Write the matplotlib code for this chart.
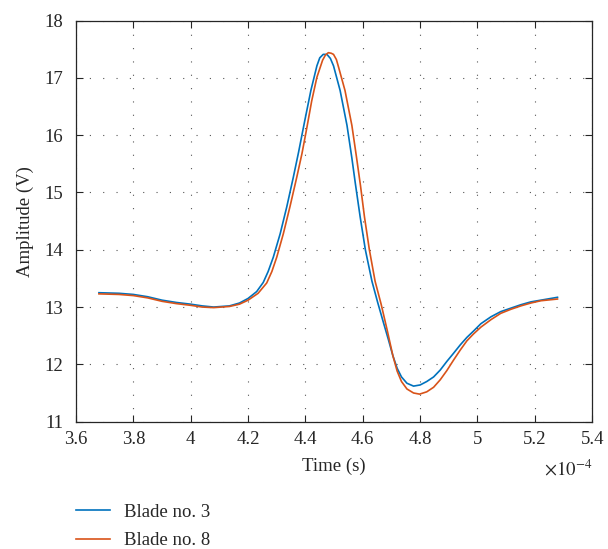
import numpy as np
import matplotlib
matplotlib.use("Agg")
import matplotlib.pyplot as plt
from matplotlib.ticker import FormatStrFormatter

plt.rcParams['font.family'] = ['Liberation Serif', 'DejaVu Serif']
plt.rcParams['mathtext.fontset'] = 'stix'

# time in units of 1e-4 s, amplitude in V
t_b3 = [3.68, 3.75, 3.80, 3.85, 3.90, 3.95, 4.00, 4.04, 4.08, 4.135, 4.17, 4.20, 4.23,
        4.253, 4.27, 4.288, 4.312, 4.335, 4.358, 4.376, 4.398, 4.419, 4.44, 4.45, 4.462,
        4.475, 4.487, 4.498, 4.521, 4.545, 4.562, 4.574, 4.591, 4.609, 4.632, 4.652,
        4.672, 4.69, 4.705, 4.72, 4.735, 4.754, 4.777, 4.80, 4.823, 4.847, 4.870, 4.893,
        4.916, 4.940, 4.963, 4.986, 5.012, 5.047, 5.081, 5.116, 5.151, 5.186, 5.221, 5.279]
a_b3 = [13.25, 13.24, 13.22, 13.18, 13.12, 13.08, 13.05, 13.02, 13.00, 13.02, 13.07, 13.15, 13.27,
        13.43, 13.62, 13.87, 14.28, 14.75, 15.27, 15.70, 16.26, 16.78, 17.21, 17.35, 17.41,
        17.41, 17.34, 17.21, 16.78, 16.17, 15.60, 15.16, 14.57, 14.00, 13.45, 13.08,
        12.73, 12.42, 12.15, 11.93, 11.78, 11.67, 11.62, 11.64, 11.70, 11.78, 11.90, 12.05,
        12.19, 12.34, 12.47, 12.58, 12.71, 12.83, 12.92, 12.98, 13.04, 13.09, 13.12, 13.17]

t_b8 = [3.68, 3.75, 3.80, 3.85, 3.90, 3.95, 4.00, 4.04, 4.08, 4.135, 4.17, 4.20, 4.235,
        4.265, 4.283, 4.30, 4.323, 4.346, 4.37, 4.388, 4.405, 4.422, 4.44, 4.46, 4.47,
        4.48, 4.49, 4.498, 4.508, 4.516, 4.538, 4.562, 4.578, 4.592, 4.606, 4.623, 4.643,
        4.664, 4.685, 4.705, 4.72, 4.735, 4.754, 4.777, 4.798, 4.823, 4.847, 4.870, 4.893,
        4.916, 4.940, 4.963, 4.986, 5.012, 5.047, 5.081, 5.116, 5.151, 5.186, 5.221, 5.279]
a_b8 = [13.23, 13.22, 13.20, 13.16, 13.10, 13.06, 13.03, 13.00, 12.99, 13.01, 13.05, 13.12, 13.24,
        13.42, 13.62, 13.87, 14.28, 14.75, 15.27, 15.68, 16.13, 16.60, 17.01, 17.31, 17.40,
        17.44, 17.43, 17.41, 17.32, 17.18, 16.78, 16.17, 15.62, 15.12, 14.57, 14.00, 13.45,
        13.05, 12.60, 12.15, 11.88, 11.70, 11.57, 11.50, 11.48, 11.52, 11.60, 11.73, 11.89,
        12.07, 12.25, 12.41, 12.53, 12.65, 12.78, 12.89, 12.96, 13.02, 13.07, 13.11, 13.14]

fig = plt.figure(figsize=(6.08, 5.49), dpi=100)
ax = fig.add_axes([0.125, 0.232, 0.849, 0.7305])

ax.plot(t_b3, a_b3, color='#0072BD', lw=1.2, label='Blade no. 3')
ax.plot(t_b8, a_b8, color='#D95319', lw=1.2, label='Blade no. 8')

ax.set_xlim(3.6, 5.4)
ax.set_ylim(11, 18)
ax.set_xticks(np.arange(3.6, 5.41, 0.2))
ax.set_yticks(np.arange(11, 19, 1))
ax.xaxis.set_major_formatter(FormatStrFormatter('%g'))
ax.tick_params(direction='in', top=True, right=True, length=5, width=0.8,
               labelsize=13.5, colors='#262626', labelcolor='#262626')
ax.tick_params(axis='x', pad=7)
ax.tick_params(axis='y', pad=9)
for sp in ax.spines.values():
    sp.set_color('#262626')
    sp.set_linewidth(0.9)

ax.grid(True, color='#555555', linestyle=(0, (1, 11)), linewidth=0.8)

ax.set_xlabel('Time (s)', fontsize=13.5, color='#262626', labelpad=6.5)
ax.set_ylabel('Amplitude (V)', fontsize=13.5, color='#262626', labelpad=8)
ax.text(1.0, -0.12, r'$\times10^{-4}$', transform=ax.transAxes, ha='right',
        va='center', fontsize=13.5, color='#262626')

fig.legend(loc='upper left', bbox_to_anchor=(0.097, 0.113), frameon=False,
           fontsize=13.5, handlelength=1.8, handletextpad=0.75, labelspacing=0.6,
           labelcolor='#262626')

fig.savefig('out.png', dpi=100)
